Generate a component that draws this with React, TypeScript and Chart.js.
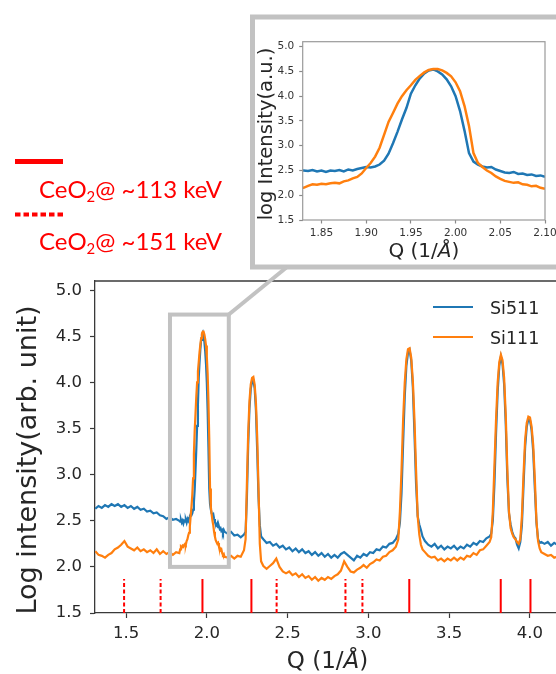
import React, { useEffect, useRef } from 'react';
import { Chart, registerables } from 'chart.js';

Chart.register(...registerables);

// ---------- data ----------
const qGrid: number[] = [
  1.31, 1.33, 1.35, 1.37, 1.39, 1.41, 1.43, 1.45, 1.47, 1.49, 1.51, 1.53, 1.55, 1.57, 1.59, 1.61, 1.63, 1.65, 1.67, 1.69, 1.71, 1.73, 1.75, 1.77, 1.79, 1.81,
  1.830, 1.835, 1.840, 1.845, 1.850, 1.855, 1.860, 1.865, 1.870, 1.875, 1.880, 1.885, 1.890, 1.895,
  1.900, 1.905, 1.910, 1.915, 1.920, 1.925, 1.930, 1.935, 1.940, 1.945, 1.950, 1.955, 1.960, 1.965, 1.970, 1.975, 1.980, 1.985, 1.990, 1.995,
  2.000, 2.005, 2.010, 2.015, 2.020, 2.025, 2.030, 2.035, 2.040, 2.045, 2.050, 2.055, 2.060, 2.065, 2.070, 2.075, 2.080, 2.085, 2.090, 2.095,
  2.100, 2.105, 2.110,
  2.13, 2.15, 2.17, 2.19, 2.21, 2.23,
  2.240, 2.248, 2.256, 2.264, 2.272, 2.280, 2.288, 2.296, 2.304, 2.312, 2.320, 2.328, 2.336,
  2.35, 2.37, 2.39, 2.41, 2.43, 2.45, 2.47, 2.49, 2.51, 2.53, 2.55, 2.57, 2.59, 2.61, 2.63, 2.65, 2.67, 2.69, 2.71, 2.73,
  2.75, 2.77, 2.79, 2.81, 2.83, 2.85, 2.87, 2.89, 2.91, 2.93, 2.95, 2.97, 2.99, 3.01, 3.03, 3.05, 3.07, 3.09, 3.11, 3.13, 3.15, 3.17,
  3.185, 3.195, 3.205, 3.215, 3.225, 3.235, 3.245, 3.255, 3.265, 3.275, 3.285, 3.295, 3.305, 3.315, 3.325, 3.335,
  3.35, 3.37, 3.39, 3.41, 3.43, 3.45, 3.47, 3.49, 3.51, 3.53, 3.55, 3.57, 3.59, 3.61, 3.63, 3.65, 3.67, 3.69, 3.71, 3.73, 3.75,
  3.76, 3.77, 3.78, 3.79, 3.80, 3.81, 3.82, 3.83, 3.84, 3.85, 3.86, 3.87, 3.88, 3.89, 3.90,
  3.91, 3.92, 3.93, 3.94, 3.95, 3.96, 3.97, 3.98, 3.99, 4.00, 4.01, 4.02, 4.03, 4.04, 4.05, 4.06, 4.07,
  4.09, 4.11, 4.13, 4.15, 4.17,
];

const si511: number[] = [
  2.63, 2.66, 2.64, 2.67, 2.65, 2.68, 2.66, 2.68, 2.65, 2.67, 2.64, 2.66, 2.63, 2.65, 2.62, 2.63, 2.60, 2.61, 2.58, 2.59, 2.56, 2.55, 2.52, 2.54, 2.51, 2.52,
  2.50, 2.49, 2.51, 2.48, 2.50, 2.47, 2.50, 2.49, 2.51, 2.48, 2.52, 2.50, 2.53, 2.55,
  2.57, 2.56, 2.58, 2.62, 2.70, 2.84, 3.05, 3.28, 3.53, 3.76, 4.05, 4.22, 4.36, 4.46, 4.52, 4.54, 4.50, 4.44, 4.34, 4.20,
  4.00, 3.70, 3.30, 2.85, 2.68, 2.62, 2.58, 2.56, 2.57, 2.52, 2.49, 2.46, 2.45, 2.47, 2.43, 2.44, 2.41, 2.42, 2.39, 2.40,
  2.37, 2.40, 2.38,
  2.36, 2.38, 2.34, 2.35, 2.32, 2.35,
  2.38, 2.75, 3.32, 3.72, 3.93, 4.01, 4.02, 3.94, 3.70, 3.25, 2.75, 2.45, 2.33,
  2.30, 2.26, 2.27, 2.23, 2.25, 2.21, 2.23, 2.19, 2.21, 2.17, 2.20, 2.16, 2.19, 2.15, 2.17, 2.13, 2.16, 2.12, 2.15, 2.11,
  2.14, 2.10, 2.13, 2.10, 2.14, 2.16, 2.13, 2.10, 2.07, 2.12, 2.10, 2.14, 2.12, 2.16, 2.15, 2.19, 2.18, 2.22, 2.21, 2.25, 2.26, 2.30,
  2.36, 2.48, 2.80, 3.35, 3.85, 4.18, 4.32, 4.35, 4.24, 3.95, 3.45, 2.90, 2.55, 2.46, 2.40, 2.33,
  2.28, 2.24, 2.22, 2.25, 2.20, 2.23, 2.19, 2.22, 2.20, 2.23, 2.19, 2.22, 2.20, 2.24, 2.22, 2.26, 2.24, 2.28, 2.27, 2.31, 2.33,
  2.36, 2.50, 2.90, 3.45, 3.90, 4.18, 4.28, 4.20, 3.98, 3.55, 2.95, 2.58, 2.46, 2.38, 2.33,
  2.31, 2.24, 2.20, 2.27, 2.45, 2.88, 3.30, 3.52, 3.60, 3.59, 3.48, 3.25, 2.85, 2.48, 2.30, 2.26, 2.27,
  2.25, 2.27, 2.23, 2.26, 2.24,
];

const si111: number[] = [
  2.17, 2.13, 2.12, 2.10, 2.13, 2.15, 2.19, 2.21, 2.24, 2.28, 2.22, 2.20, 2.18, 2.21, 2.17, 2.19, 2.16, 2.18, 2.15, 2.19, 2.14, 2.17, 2.14, 2.16, 2.13, 2.16,
  2.15, 2.19, 2.22, 2.21, 2.23, 2.22, 2.24, 2.25, 2.24, 2.28, 2.30, 2.34, 2.37, 2.44,
  2.55, 2.65, 2.78, 2.96, 3.22, 3.48, 3.66, 3.85, 4.00, 4.12, 4.22, 4.33, 4.41, 4.48, 4.53, 4.55, 4.55, 4.52, 4.47, 4.40,
  4.28, 4.10, 3.80, 3.40, 2.85, 2.65, 2.57, 2.50, 2.45, 2.38, 2.33, 2.29, 2.27, 2.25, 2.26, 2.22, 2.21, 2.18, 2.19, 2.15,
  2.13, 2.14, 2.11,
  2.10, 2.12, 2.09, 2.12, 2.11, 2.18,
  2.30, 2.90, 3.45, 3.80, 3.98, 4.05, 4.06, 3.98, 3.78, 3.40, 2.85, 2.25, 2.06,
  2.01, 1.98, 2.01, 2.04, 2.09, 2.00, 1.95, 1.93, 1.95, 1.91, 1.93, 1.89, 1.92, 1.88, 1.90, 1.86, 1.89, 1.85, 1.88, 1.86,
  1.89, 1.87, 1.90, 1.92, 1.96, 2.06, 2.00, 1.95, 1.94, 1.97, 1.99, 2.02, 1.99, 2.03, 2.05, 2.08, 2.07, 2.11, 2.12, 2.16, 2.18, 2.22,
  2.30, 2.60, 3.05, 3.60, 4.00, 4.25, 4.36, 4.37, 4.27, 4.02, 3.60, 3.05, 2.55, 2.35, 2.24, 2.19,
  2.16, 2.12, 2.10, 2.11, 2.07, 2.09, 2.06, 2.09, 2.07, 2.10, 2.07, 2.10, 2.08, 2.12, 2.11, 2.15, 2.13, 2.18, 2.19, 2.23, 2.27,
  2.32, 2.60, 3.10, 3.60, 4.00, 4.22, 4.30, 4.24, 4.05, 3.65, 3.05, 2.60, 2.42, 2.36, 2.32,
  2.30, 2.27, 2.25, 2.30, 2.55, 3.00, 3.38, 3.56, 3.63, 3.62, 3.52, 3.32, 2.95, 2.50, 2.28, 2.20, 2.16,
  2.14, 2.12, 2.13, 2.10, 2.11,
];

const seriesNames = ['Si511', 'Si111'];
const ceo2At113: number[] = [1.973, 2.276, 3.253, 3.819, 4.003];
const ceo2At151: number[] = [1.488, 1.714, 2.432, 2.858, 2.963];
const refSpan: number[] = [1.5, 1.87];
const ceo2Energies = ['~113 keV', '~151 keV'];

const mainXTicks: number[] = [1.5, 2.0, 2.5, 3.0, 3.5, 4.0];
const mainYTicks: number[] = [1.5, 2.0, 2.5, 3.0, 3.5, 4.0, 4.5, 5.0];
const insetXTicks: number[] = [1.85, 1.9, 1.95, 2.0, 2.05, 2.1];
const insetYTicks: number[] = [1.5, 2.0, 2.5, 3.0, 3.5, 4.0, 4.5, 5.0];
const zoomBoxQ: number[] = [1.772, 2.136];
const zoomBoxI: number[] = [2.0, 4.736];

const mainYTitle = 'Log intensity(arb. unit)';
const insetYTitle = 'log Intensity(a.u.)';
const qTitleParts = ['Q (1/', 'Å', ')'];

// ---------- styles ----------
const BLUE = '#1f77b4';
const ORANGE = '#ff7f0e';
const RED = '#ff0000';
const GRAY = '#c2c2c2';
const INK = '#262626';
const FONT = '"DejaVu Sans", sans-serif';

const toPts = (ys: number[]) => qGrid.map((q, i) => ({ x: q, y: ys[i] }));
const refPts = (qs: number[]) =>
  qs.flatMap((q) => [
    { x: q, y: refSpan[0] },
    { x: q, y: refSpan[1] },
    { x: q, y: null as any },
  ]);

const fixedTicks = (vals: number[]) => (s: any) => {
  s.ticks = vals.map((v) => ({ value: v }));
};

function drawQTitle(ctx: CanvasRenderingContext2D, cx: number, baseline: number, size: number) {
  const fonts = [`${size}px ${FONT}`, `italic ${size}px ${FONT}`, `${size}px ${FONT}`];
  const widths = qTitleParts.map((p, i) => {
    ctx.font = fonts[i];
    return ctx.measureText(p).width;
  });
  const total = widths.reduce((a, b) => a + b, 0);
  let x = cx - total / 2;
  ctx.fillStyle = INK;
  ctx.textAlign = 'left';
  ctx.textBaseline = 'alphabetic';
  qTitleParts.forEach((p, i) => {
    ctx.font = fonts[i];
    ctx.fillText(p, x, baseline);
    x += widths[i];
  });
}

function drawVTitle(ctx: CanvasRenderingContext2D, text: string, cx: number, cy: number, size: number) {
  ctx.save();
  ctx.translate(cx, cy);
  ctx.rotate(-Math.PI / 2);
  ctx.font = `${size}px ${FONT}`;
  ctx.fillStyle = INK;
  ctx.textAlign = 'center';
  ctx.textBaseline = 'middle';
  ctx.fillText(text, 0, 0);
  ctx.restore();
}

const mainDecor = {
  id: 'mainDecor',
  afterDraw(chart: any) {
    const { ctx, chartArea: a, scales } = chart;
    const x = scales.x, y = scales.y;
    ctx.save();
    // top spine
    ctx.strokeStyle = '#3a3a3a';
    ctx.lineWidth = 1.3;
    ctx.beginPath();
    ctx.moveTo(a.left, a.top);
    ctx.lineTo(a.right + 2, a.top);
    ctx.stroke();

    // inset frame
    ctx.strokeStyle = GRAY;
    ctx.lineWidth = 5;
    ctx.strokeRect(252.5, 17, 330, 250);

    // zoom box
    const bx1 = x.getPixelForValue(zoomBoxQ[0]);
    const bx2 = x.getPixelForValue(zoomBoxQ[1]);
    const byTop = y.getPixelForValue(zoomBoxI[1]);
    const byBot = y.getPixelForValue(zoomBoxI[0]);
    ctx.lineWidth = 4;
    ctx.strokeRect(bx1, byTop, bx2 - bx1, byBot - byTop);
    // connector
    ctx.beginPath();
    ctx.moveTo(bx2, byTop);
    ctx.lineTo(287, 267);
    ctx.stroke();

    // CeO2 legend marks
    ctx.strokeStyle = RED;
    ctx.lineWidth = 5;
    ctx.beginPath();
    ctx.moveTo(15, 161.5);
    ctx.lineTo(63, 161.5);
    ctx.stroke();
    ctx.lineWidth = 4;
    ctx.setLineDash([5.5, 3]);
    ctx.beginPath();
    ctx.moveTo(15, 214.5);
    ctx.lineTo(63, 214.5);
    ctx.stroke();
    ctx.setLineDash([]);

    // series legend
    const legY = [307, 337];
    [BLUE, ORANGE].forEach((c, i) => {
      ctx.strokeStyle = c;
      ctx.lineWidth = 2;
      ctx.beginPath();
      ctx.moveTo(433, legY[i]);
      ctx.lineTo(473, legY[i]);
      ctx.stroke();
      ctx.font = `17.5px ${FONT}`;
      ctx.fillStyle = INK;
      ctx.textAlign = 'left';
      ctx.textBaseline = 'alphabetic';
      ctx.fillText(seriesNames[i], 490, legY[i] + 6.5);
    });

    // titles
    drawVTitle(ctx, mainYTitle, 29, 460, 27);
    drawQTitle(ctx, 327.5, 668, 23);
    ctx.restore();
  },
};

const insetDecor = {
  id: 'insetDecor',
  afterDraw(chart: any) {
    const { ctx, chartArea: a } = chart;
    ctx.save();
    ctx.strokeStyle = '#9a9a9a';
    ctx.lineWidth = 1.2;
    ctx.strokeRect(a.left, a.top, a.right - a.left, a.bottom - a.top);
    drawVTitle(ctx, insetYTitle, 11, 114, 19.5);
    drawQTitle(ctx, (a.left + a.right) / 2, 237, 20);
    ctx.restore();
  },
};

const axisCommon = (size: number, tickLen: number, tickColor: string, pad: number) => ({
  type: 'linear' as const,
  grid: { drawOnChartArea: false, drawTicks: true, tickLength: tickLen, tickColor, tickWidth: 1.2 },
  border: { display: false },
  ticks: { font: { family: FONT, size }, color: INK, padding: pad, autoSkip: false, maxRotation: 0 },
});

export default function App() {
  const mainRef = useRef<HTMLCanvasElement>(null);
  const insetRef = useRef<HTMLCanvasElement>(null);

  useEffect(() => {
    const datasets = (w: number, withRefs: boolean) => {
      const ds: any[] = [
        { label: seriesNames[0], data: toPts(si511), borderColor: BLUE, borderWidth: w, pointRadius: 0, order: 2 },
        { label: seriesNames[1], data: toPts(si111), borderColor: ORANGE, borderWidth: w, pointRadius: 0, order: 1 },
      ];
      if (withRefs) {
        ds.push({ label: 'CeO2 113', data: refPts(ceo2At113), borderColor: RED, borderWidth: 2, pointRadius: 0, order: 3 });
        ds.push({ label: 'CeO2 151', data: refPts(ceo2At151), borderColor: RED, borderWidth: 2, borderDash: [4, 2.5], pointRadius: 0, order: 3 });
      }
      return ds;
    };

    const mainX = axisCommon(16.5, 5, '#3a3a3a', 6);
    const mainY = axisCommon(16.5, 5, '#3a3a3a', 8);
    const main = new Chart(mainRef.current!, {
      type: 'line',
      data: { datasets: datasets(2.2, true) },
      options: {
        responsive: false,
        animation: false,
        devicePixelRatio: 1,
        events: [],
        layout: { padding: { top: 281, left: 0, right: 0, bottom: 0 }, autoPadding: false },
        plugins: { legend: { display: false }, tooltip: { enabled: false } },
        scales: {
          x: {
            ...mainX,
            min: 1.308,
            max: 4.161,
            border: { display: true, color: '#3a3a3a', width: 1.3 },
            afterBuildTicks: fixedTicks(mainXTicks),
            afterFit: (s: any) => { s.height = 61; s.paddingLeft = 0; s.paddingRight = 0; },
            ticks: { ...mainX.ticks, callback: (v: any) => Number(v).toFixed(1) },
          },
          y: {
            ...mainY,
            min: 1.5,
            max: 5.1,
            border: { display: true, color: '#3a3a3a', width: 1.3 },
            afterBuildTicks: fixedTicks(mainYTicks),
            afterFit: (s: any) => { s.width = 95; s.paddingTop = 0; s.paddingBottom = 0; },
            ticks: { ...mainY.ticks, callback: (v: any) => Number(v).toFixed(1) },
          },
        },
      } as any,
      plugins: [mainDecor],
    });

    const inX = axisCommon(10.5, 3.5, '#8a8a8a', 3);
    const inY = axisCommon(10.5, 3.5, '#8a8a8a', 5);
    const inset = new Chart(insetRef.current!, {
      type: 'line',
      data: { datasets: datasets(2.5, false) },
      options: {
        responsive: false,
        animation: false,
        devicePixelRatio: 1,
        events: [],
        layout: { padding: { top: 21.7, left: 0, right: 11, bottom: 0 }, autoPadding: false },
        plugins: { legend: { display: false }, tooltip: { enabled: false } },
        scales: {
          x: {
            ...inX,
            min: 1.829,
            max: 2.1,
            afterBuildTicks: fixedTicks(insetXTicks),
            afterFit: (s: any) => { s.height = 45; s.paddingLeft = 0; s.paddingRight = 0; },
            ticks: { ...inX.ticks, color: '#333', callback: (v: any) => Number(v).toFixed(2) },
          },
          y: {
            ...inY,
            min: 1.5,
            max: 5.1,
            afterBuildTicks: fixedTicks(insetYTicks),
            afterFit: (s: any) => { s.width = 46.7; s.paddingTop = 0; s.paddingBottom = 0; },
            ticks: { ...inY.ticks, color: '#333', callback: (v: any) => Number(v).toFixed(1) },
          },
        },
      } as any,
      plugins: [insetDecor],
    });

    return () => {
      main.destroy();
      inset.destroy();
    };
  }, []);

  const labelStyle = (top: number): React.CSSProperties => ({
    position: 'absolute',
    left: 39,
    top,
    fontFamily: 'Lato, "Open Sans", sans-serif',
    fontSize: 24,
    lineHeight: '24px',
    color: RED,
    whiteSpace: 'nowrap',
  });
  const subStyle: React.CSSProperties = { fontSize: '0.62em', position: 'relative', top: '0.3em' };

  return (
    <div style={{ position: 'absolute', left: 0, top: 0, width: 556, height: 674, overflow: 'hidden', background: '#fff' }}>
      <canvas ref={mainRef} width={556} height={674} style={{ position: 'absolute', left: 0, top: 0 }} />
      <canvas ref={insetRef} width={300} height={245} style={{ position: 'absolute', left: 256, top: 20 }} />
      <div style={labelStyle(177)}>
        CeO<span style={subStyle}>2</span>@ {ceo2Energies[0]}
      </div>
      <div style={labelStyle(229)}>
        CeO<span style={subStyle}>2</span>@ {ceo2Energies[1]}
      </div>
    </div>
  );
}
